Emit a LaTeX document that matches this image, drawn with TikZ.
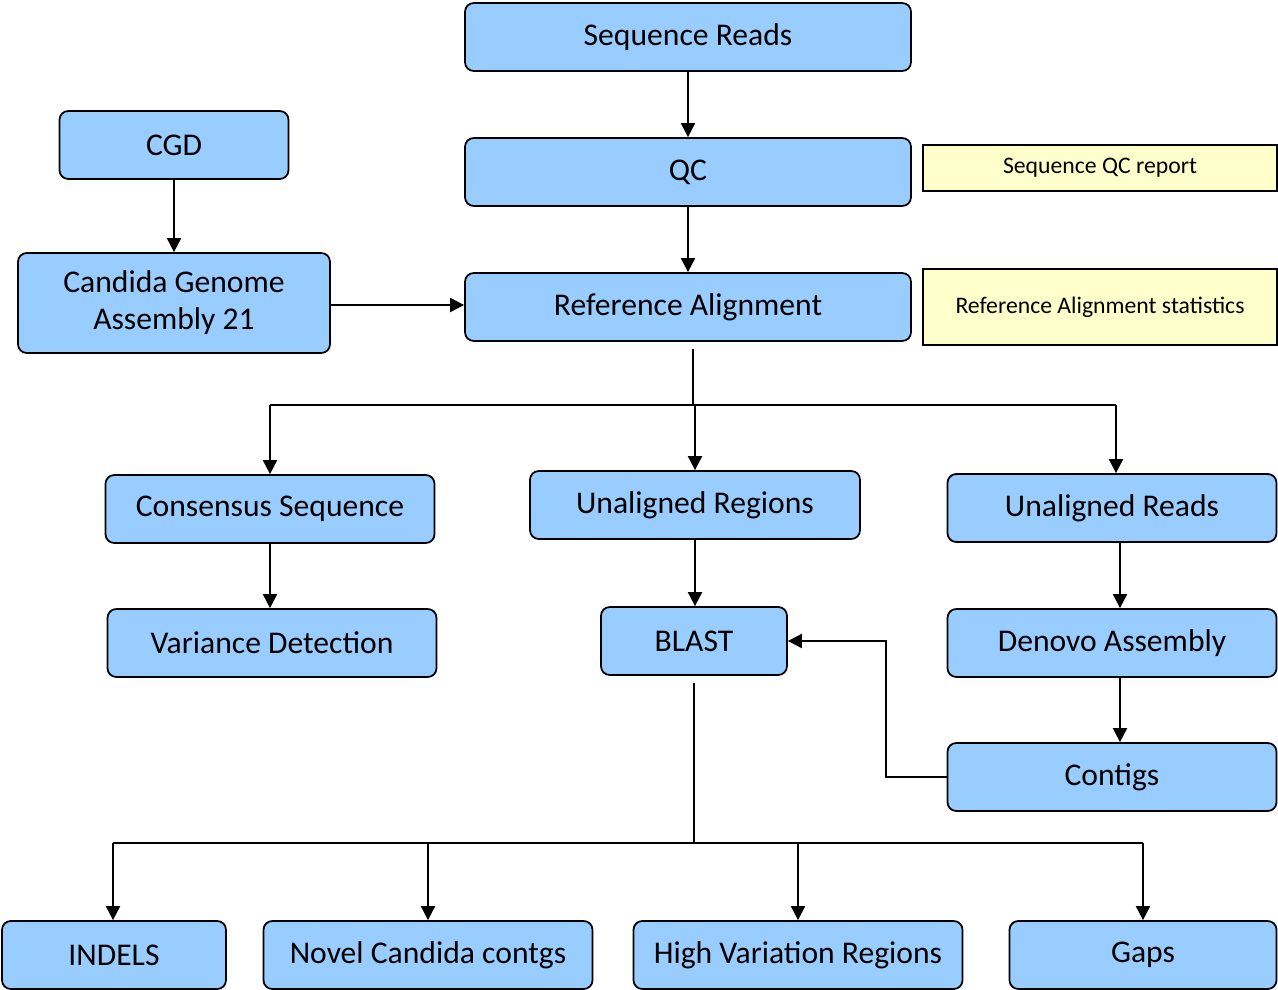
\documentclass[tikz,border=0pt]{standalone}
\usepackage{fontspec}
\setmainfont{Carlito}
\usetikzlibrary{arrows.meta}

\definecolor{boxblue}{HTML}{99CCFF}
\definecolor{noteyellow}{HTML}{FFFFCC}

\tikzset{
  step box/.style={draw, line width=1pt, fill=boxblue, rounded corners=5pt, minimum height=68*0.02cm,
    inner sep=2pt, align=center, font=\fontsize{18}{21}\selectfont},
  note box/.style={draw, line width=1pt, fill=noteyellow, minimum width=354*0.02cm, inner sep=2pt,
    font=\fontsize{13.5}{16}\selectfont},
  flow/.style={line width=1.1pt, -{Triangle[length=8pt,width=8pt]}},
  bus/.style={line width=1.1pt}
}

\begin{document}
\begin{tikzpicture}[x=0.02cm, y=-0.02cm]
        \useasboundingbox (0,0) rectangle (1278,990);

        % Top of the pipeline
        \node[step box, minimum width=446*0.02cm] (reads) at (688,37) {Sequence Reads};
        \node[step box, minimum width=446*0.02cm] (qc) at (688,172) {QC};
        \node[step box, minimum width=446*0.02cm] (align) at (688,307) {Reference Alignment};
        \node[note box, minimum height=46*0.02cm] (qcrep) at (1100,168) {Sequence QC report};
        \node[note box, minimum height=76*0.02cm] (alstat) at (1100,307) {Reference Alignment statistics};

        % Reference genome
        \node[step box, minimum width=229*0.02cm] (cgd) at (174,145) {CGD};
        \node[step box, minimum width=312*0.02cm, minimum height=100*0.02cm] (genome) at (174,303) {Candida Genome\\Assembly 21};

        % Middle row
        \node[step box, minimum width=329*0.02cm] (consensus) at (270,509) {Consensus Sequence};
        \node[step box, minimum width=330*0.02cm] (unregions) at (695,505) {Unaligned Regions};
        \node[step box, minimum width=329*0.02cm] (unreads) at (1112,508) {Unaligned Reads};
        \node[step box, minimum width=329*0.02cm] (variance) at (272,643) {Variance Detection};
        \node[step box, minimum width=186*0.02cm] (blast) at (694,641) {BLAST};
        \node[step box, minimum width=329*0.02cm] (denovo) at (1112,643) {Denovo Assembly};
        \node[step box, minimum width=329*0.02cm] (contigs) at (1112,777) {Contigs};

        % Results
        \node[step box, minimum width=224*0.02cm] (indels) at (114,955) {INDELS};
        \node[step box, minimum width=329*0.02cm] (novel) at (428,955) {Novel Candida contgs};
        \node[step box, minimum width=329*0.02cm] (highvar) at (798,955) {High Variation Regions};
        \node[step box, minimum width=267*0.02cm] (gaps) at (1143,955) {Gaps};

        % Connectors
        \draw[flow] (reads) -- (qc);
        \draw[flow] (qc) -- (align);
        \draw[flow] (cgd.south) ++(0,-2) -- (genome.north);
        \draw[flow] (genome.east |- 0,305) -- (align.west |- 0,305);

        \coordinate (abus) at (693,405);
        \draw[bus] ([yshift=-4]align.south -| abus) -- (abus);
        \draw[bus] (270,405) -- (1116,405);
        \draw[flow] (270,405) -- (consensus.north);
        \draw[flow] (abus -| unregions) -- (unregions.north);
        \draw[flow] (1116,405) -- (unreads.north -| 1116,0);

        \draw[flow] (consensus.south) -- (variance.north -| consensus);
        \draw[flow] (unregions.south) -- (blast.north -| unregions);
        \draw[flow] (unreads.south -| 1120,0) -- (denovo.north -| 1120,0);
        \draw[flow] (denovo.south -| 1120,0) -- (contigs.north -| 1120,0);
        \draw[flow] (contigs.west) -- (886,777) -- (886,641) -- (blast.east);

        \coordinate (bbus) at (694,843);
        \draw[bus] ([yshift=-4]blast.south) -- (bbus);
        \draw[bus] (113,843) -- (1143,843);
        \draw[flow] (113,843) -- (indels.north -| 113,0);
        \draw[flow] (novel |- bbus) -- (novel.north);
        \draw[flow] (highvar |- bbus) -- (highvar.north);
        \draw[flow] (gaps |- bbus) -- (gaps.north);
    \end{tikzpicture}
\end{document}
